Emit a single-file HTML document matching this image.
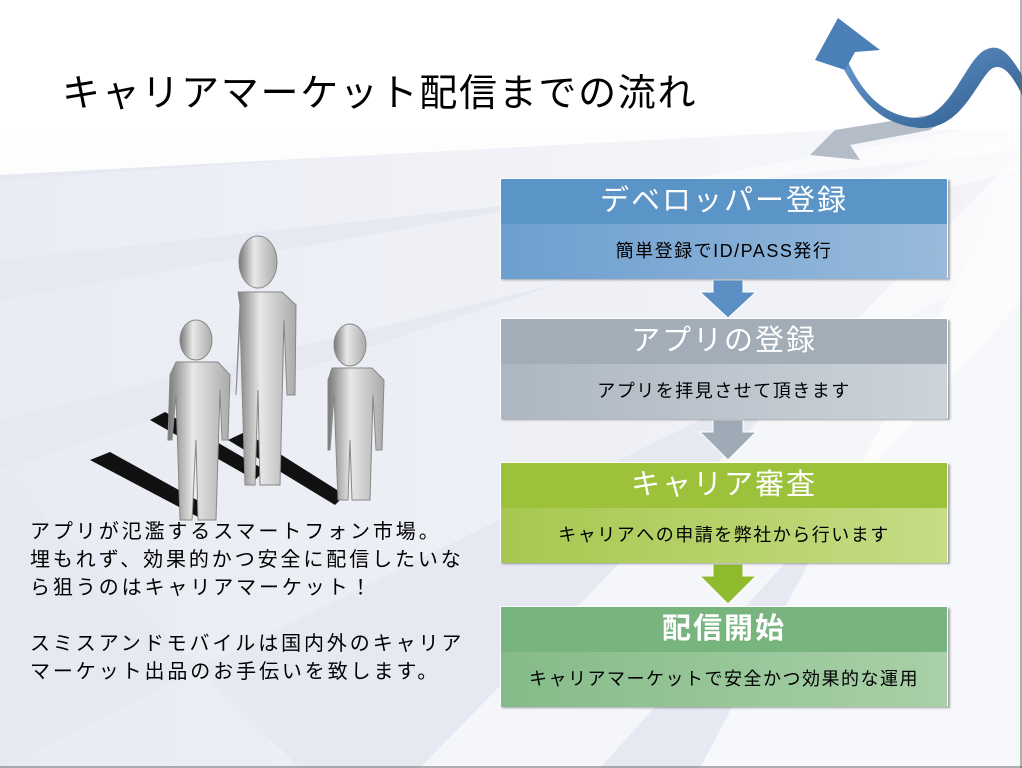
<!DOCTYPE html>
<html><head><meta charset="utf-8"><style>
body{margin:0;width:1022px;height:768px;overflow:hidden;position:relative;background:#e4e8f1;font-family:"Liberation Sans","Noto Sans CJK JP",sans-serif;}
.bg{position:absolute;left:0;top:0}
.title{position:absolute;left:62px;top:62px;font-size:38px;color:#000;letter-spacing:1.7px;white-space:nowrap}
.box{position:absolute;left:500px;width:448px;height:100px;box-shadow:2px 2px 2px rgba(0,0,0,.35);border:1px solid #fff;box-sizing:border-box}
.hd{height:45px;color:#fff;font-size:29px;text-align:center;line-height:45px;letter-spacing:2px}
.bd{height:55px;text-align:center;line-height:55px;font-size:18px;color:#000;letter-spacing:1.5px}
.txt{position:absolute;left:30px;top:518px;font-size:20px;line-height:28px;color:#000;white-space:nowrap;letter-spacing:2.9px}
</style></head><body>
<svg class="bg" width="1022" height="768">
<defs>
<linearGradient id="g1" x1="0" y1="0" x2="1" y2="0"><stop offset="0" stop-color="#fff" stop-opacity=".2"/><stop offset="1" stop-color="#fff" stop-opacity="1"/></linearGradient>
<linearGradient id="fig" x1="0" y1="0" x2="1" y2="0"><stop offset="0" stop-color="#777"/><stop offset=".4" stop-color="#e8e8e8"/><stop offset="1" stop-color="#aaa"/></linearGradient>
<linearGradient id="ar" x1="0" y1="0" x2="1" y2="1"><stop offset="0" stop-color="#6a9bd0"/><stop offset="1" stop-color="#2c5a8c"/></linearGradient>
</defs>
<rect width="1022" height="768" fill="#e6e9f2"/>
<rect width="1022" height="130" fill="#fff"/>
<polygon points="0,130 1022,95 1022,120 0,175" fill="#fff" opacity=".9"/>
<polygon points="0,180 1022,110 1022,150 0,260" fill="url(#g1)" opacity=".7"/>
<polygon points="0,300 1022,120 1022,170 0,420" fill="url(#g1)" opacity=".6"/>
<polygon points="0,470 1022,130 1022,260 0,768 300,768" fill="url(#g1)" opacity=".5"/>
<polygon points="700,768 1022,160 1022,768" fill="#f7f8fb"/>
<polygon points="420,768 1022,150 1022,300 600,768" fill="#fff" opacity=".6"/>
<polygon points="810,155 835,130 960,110 930,130 850,145 860,160" fill="#b4bcc8"/>
<path d="M845,55 C860,90 880,115 915,118 C950,120 965,60 985,50 C1000,42 1010,55 1022,75 L1022,95 C1010,70 1000,62 990,70 C975,85 960,130 920,128 C880,125 860,100 840,62 Z" fill="url(#ar)"/>
<polygon points="815,60 838,18 880,50 855,52 845,70" fill="#4a7fb8"/>
<polygon points="90,460 110,452 215,510 200,518" fill="#111"/>
<polygon points="150,420 165,412 265,470 255,480" fill="#111"/>
<polygon points="228,440 245,432 345,495 335,505" fill="#111"/>
<g fill="url(#fig)" stroke="#888" stroke-width="1">
<ellipse cx="196" cy="340" rx="16" ry="20"/>
<path d="M176,362 L218,362 L230,375 L228,440 L222,440 L220,390 L216,520 L198,520 L196,440 L192,520 L180,520 L176,395 L172,440 L168,440 L170,375 Z"/>
<ellipse cx="258" cy="262" rx="19" ry="26"/>
<path d="M238,292 L282,292 L296,305 L295,395 L287,395 L284,320 L280,485 L260,485 L258,390 L255,485 L245,485 L240,320 L236,395 L240,305 Z"/>
<ellipse cx="350" cy="345" rx="16" ry="21"/>
<path d="M332,368 L372,368 L384,380 L382,450 L376,450 L373,395 L370,500 L352,500 L350,440 L348,500 L338,500 L334,395 L330,450 L328,450 L328,380 Z"/>
</g>
<polygon points="713,280 743,280 743,292 756,292 728,318 700,292 713,292" fill="#5b8fc4" stroke="#fff" stroke-width="1"/>
<polygon points="713,420 743,420 743,432 756,432 728,460 700,432 713,432" fill="#9eaab6" stroke="#fff" stroke-width="1"/>
<polygon points="713,564 743,564 743,576 756,576 728,604 700,576 713,576" fill="#8fba2e" stroke="#fff" stroke-width="1"/>
<line x1="0" y1="767" x2="1022" y2="767" stroke="#666"/>
<line x1="1021" y1="0" x2="1021" y2="768" stroke="#666"/>
</svg>
<div class="title">キャリアマーケット配信までの流れ</div>
<div class="box" style="top:178px"><div class="hd" style="background:#5b94c7">デベロッパー登録</div><div class="bd" style="background:linear-gradient(90deg,#6d9fcf,#98badb)">簡単登録でID/PASS発行</div></div>
<div class="box" style="top:318px"><div class="hd" style="background:#a2adb8">アプリの登録</div><div class="bd" style="background:linear-gradient(90deg,#adb7c1,#ccd3da)">アプリを拝見させて頂きます</div></div>
<div class="box" style="top:462px"><div class="hd" style="background:#9bc23a">キャリア審査</div><div class="bd" style="background:linear-gradient(90deg,#a6c84f,#c6dc85)">キャリアへの申請を弊社から行います</div></div>
<div class="box" style="top:606px"><div class="hd" style="background:#78b47e;font-weight:bold">配信開始</div><div class="bd" style="background:linear-gradient(90deg,#85bb89,#a9d0a8)">キャリアマーケットで安全かつ効果的な運用</div></div>
<div class="txt">アプリが氾濫するスマートフォン市場。<br>埋もれず、効果的かつ安全に配信したいな<br>ら狙うのはキャリアマーケット！<br><br>スミスアンドモバイルは国内外のキャリア<br>マーケット出品のお手伝いを致します。</div>
</body></html>
